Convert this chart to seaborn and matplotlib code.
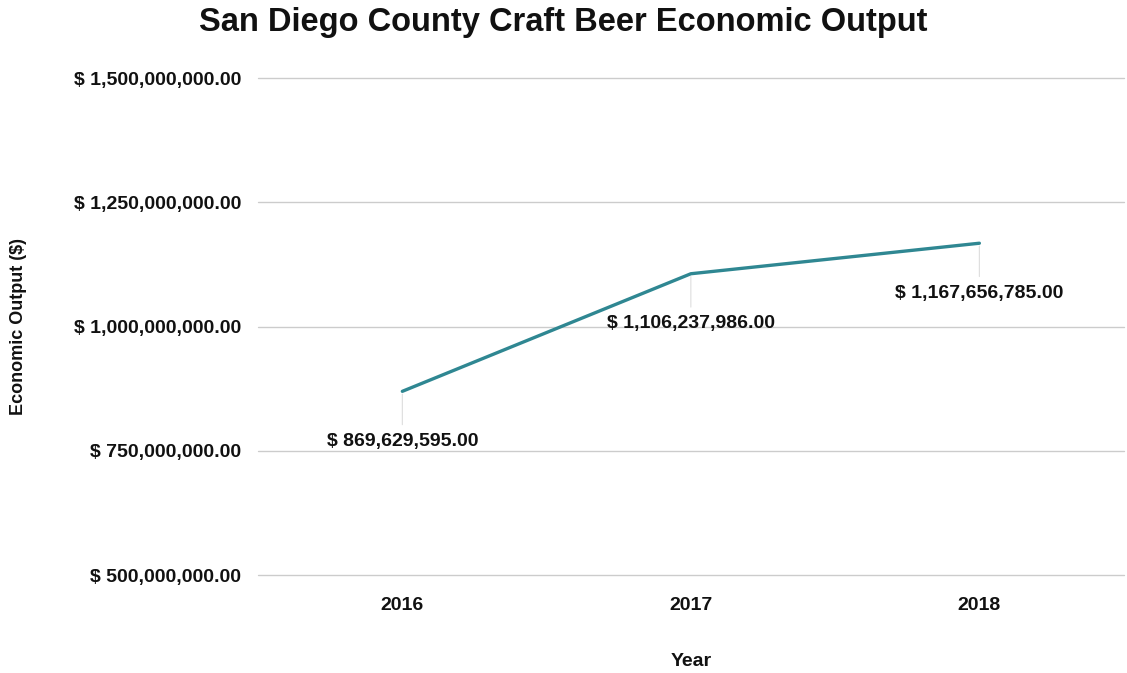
import matplotlib
matplotlib.use("Agg")
import matplotlib.pyplot as plt
import matplotlib.ticker as mticker
from matplotlib import font_manager
import seaborn as sns
import pandas as pd

years = ["2016", "2017", "2018"]
output = [869629595.00, 1106237986.00, 1167656785.00]
yticks = [500000000, 750000000, 1000000000, 1250000000, 1500000000]

sns.set_theme(style="white")
names = {f.name for f in font_manager.fontManager.ttflist}
fam = "Liberation Sans Narrow" if "Liberation Sans Narrow" in names else "Liberation Sans"
plt.rcParams['font.family'] = [fam, 'DejaVu Sans']

df = pd.DataFrame({"Year": years, "Output": output})

fig = plt.figure(figsize=(11.27, 6.73), dpi=100)
ax = fig.add_axes([0.229, 0.1456, 0.768, 0.7384])
sns.lineplot(data=df, x="Year", y="Output", ax=ax, color="#2f8792", linewidth=2.4, sort=False)

ax.set_ylim(500000000, 1500000000)
ax.set_xlim(-0.5, 2.5)
ax.set_yticks(yticks)
ax.yaxis.set_major_formatter(mticker.FuncFormatter(lambda v, p: "$ {:,.2f}".format(v)))
ax.grid(axis="y", color="#cccccc", linewidth=1)
ax.grid(axis="x", visible=False)
for gl in ax.get_ygridlines():
    gl.set_clip_on(False)
for s in ax.spines.values():
    s.set_visible(False)
ax.tick_params(axis="y", length=0, labelsize=14, pad=12, labelcolor="#111111")
ax.tick_params(axis="x", length=0, labelsize=14, pad=16, labelcolor="#111111")
for lab in ax.get_xticklabels() + ax.get_yticklabels():
    lab.set_fontweight("bold")

for i, v in enumerate(output):
    ax.annotate("", xy=(i, v), xytext=(0, -26), textcoords="offset points",
                arrowprops=dict(arrowstyle="-", color="#dddddd", lw=0.8))
    ax.annotate("$ {:,.2f}".format(v), xy=(i, v), xytext=(0, -30), textcoords="offset points",
                ha="center", va="top", fontsize=14, fontweight="bold", color="#111111")

ax.set_xlabel("Year", fontsize=14, fontweight="bold", labelpad=28, color="#111111")
ax.set_ylabel("Economic Output ($)", fontsize=13, fontweight="bold", labelpad=34, color="#111111")
fig.suptitle("San Diego County Craft Beer Economic Output", fontsize=23.5, fontweight="bold",
             x=0.5, y=0.99, color="#111111")

fig.savefig("out.png", dpi=100)
